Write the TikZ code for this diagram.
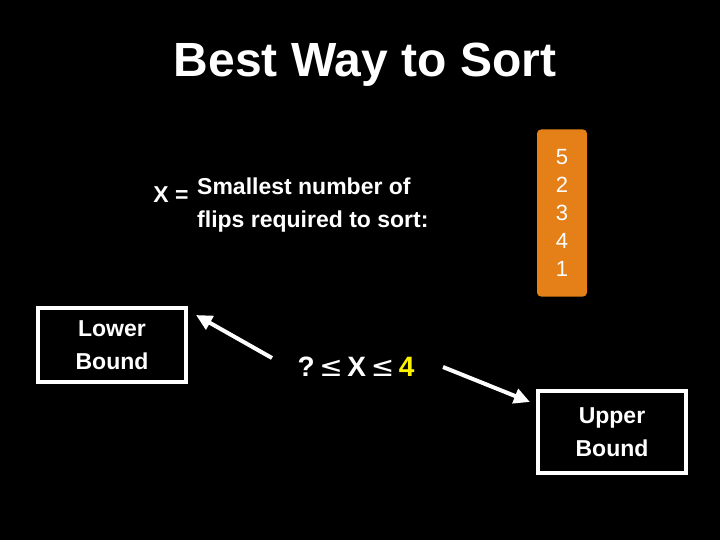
\documentclass[tikz,border=0pt]{standalone}
\usepackage{fontspec}
\setmainfont{Liberation Sans}
\newfontfamily\symfont{DejaVu Sans}
\usetikzlibrary{arrows.meta}
\begin{document}
\begin{tikzpicture}[x=1pt,y=-1pt,
  txt/.style={text=white,font=\bfseries\fontsize{23}{33}\selectfont},
  bbox/.style={draw=white,line width=4pt,fill=black,text=white,align=center,font=\bfseries\fontsize{23}{33}\selectfont,minimum width=148pt,inner sep=0pt},
  arr/.style={draw=white,line width=4pt,-{Triangle[length=16pt,width=15pt]}}]
\fill[black] (0,0) rectangle (720,540);
\useasboundingbox (0,0) rectangle (720,540);
\node[text=white,font=\bfseries\fontsize{48}{52}\selectfont] (title) at (365,65) {Best Way to Sort};
\node[txt,anchor=base east] (xeq) at (192,203) {X =};
\node[txt,anchor=north west,align=left,inner sep=0pt] (desc) at (197,178) {Smallest number of\\flips required to sort:};
\node[fill=orange!60!brown,rounded corners=4pt,minimum width=50pt,minimum height=167pt,text=white,align=center,font=\fontsize{22}{28}\selectfont] (stack) at (562,213) {5\\2\\3\\4\\1};
\node[bbox,minimum height=74pt] (lower) at (112,345) {Lower\\Bound};
\node[bbox,minimum height=82pt] (upper) at (612,432) {Upper\\Bound};
\node[text=white,font=\bfseries\fontsize{28}{32}\selectfont] (ineq) at (356,367) {?\,{\symfont\mdseries ≤}\,X\,{\symfont\mdseries ≤}\,\textcolor{yellow}{4}};
\coordinate (a1) at (272,358);
\coordinate (a2) at (443,367);
\draw[arr] (a1) -- (196,315);
\draw[arr] (a2) -- (530,402);
\end{tikzpicture}
\end{document}
